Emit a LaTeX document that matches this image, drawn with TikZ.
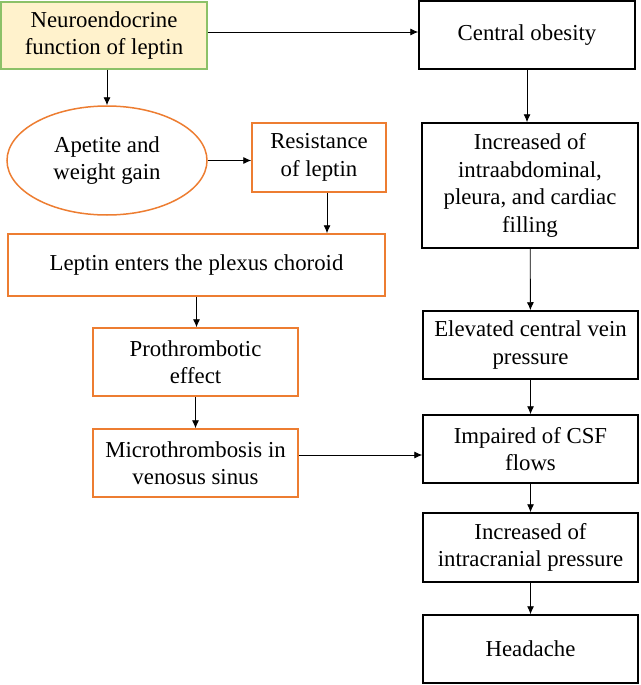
\documentclass[tikz,border=0pt]{standalone}
\usepackage{fontspec}
\setmainfont{Liberation Serif}
\usetikzlibrary{arrows.meta,shapes.geometric}
\definecolor{leporange}{HTML}{ED7D31}
\definecolor{lepgreen}{HTML}{8CC168}
\definecolor{lepyellow}{HTML}{FFF2CC}
\begin{document}
\begin{tikzpicture}[
x=1pt,y=-1pt,
every node/.style={font=\fontsize{22.8}{27.5}\selectfont,align=center,inner sep=0},
start/.style={draw=lepgreen,fill=lepyellow,line width=1.2pt,minimum width=206,minimum height=67},
obox/.style={draw=leporange,line width=1.5pt},
bbox/.style={draw,line width=1.5pt,minimum width=215,minimum height=68},
oval/.style={ellipse,draw=leporange,line width=1.5pt,minimum width=200,minimum height=109},
arr/.style={-{Latex[length=8pt,width=7pt]},line width=0.9pt},
]
\useasboundingbox(0,0)rectangle(640,685);
%left column
\node[start](neuro)at(104,35.5){Neuroendocrine\\function of leptin};
\node[oval](apetite)at(107,160.5){Apetite and\\weight gain};
\node[obox,minimum width=134,minimum height=69](resist)at(319,157.5){Resistance\\of leptin};
\node[obox,minimum width=377,minimum height=62](plexus)at(196.5,265){Leptin enters the plexus choroid};
\node[obox,minimum width=205,minimum height=68](prothr)at(195.5,362){Prothrombotic\\effect};
\node[obox,minimum width=205,minimum height=68](micro)at(195.5,463){Microthrombosis in\\venosus sinus};
%right column
\node[bbox,minimum width=216](obesity)at(527,35){Central obesity};
\node[bbox,minimum width=216,minimum height=125](intra)at(530,185.5){Increased of\\intraabdominal,\\pleura, and cardiac\\filling};
\node[bbox](elevated)at(530.5,345){Elevated central vein\\pressure};
\node[bbox](csf)at(530.5,449){Impaired of CSF\\flows};
\node[bbox,minimum height=69](icp)at(530.5,547.5){Increased of\\intracranial pressure};
\node[bbox](headache)at(530.5,649){Headache};
%connectors
\draw[arr]([yshift=3.5pt]neuro.east)--([yshift=3.5pt]neuro.east-|obesity.west);
\draw[arr]([xshift=3pt]neuro.south)--([xshift=3pt]neuro.south|-apetite.north);
\draw[arr](apetite.east)--(apetite.east-|resist.west);
\draw[arr]([xshift=8pt]resist.south)--([xshift=8pt]resist.south|-plexus.north);
\draw[arr](plexus.south)--(plexus.south|-prothr.north);
\draw[arr](prothr)--(micro);
\draw[arr]([yshift=8pt]micro.east)--([yshift=8pt]micro.east-|csf.west);
\draw[arr](obesity)--(obesity|-intra.north);
\draw[arr](intra)--(elevated);
\draw[arr](elevated)--(csf);
\draw[arr](csf)--(icp);
\draw[arr](icp)--(headache);
\end{tikzpicture}
\end{document}
